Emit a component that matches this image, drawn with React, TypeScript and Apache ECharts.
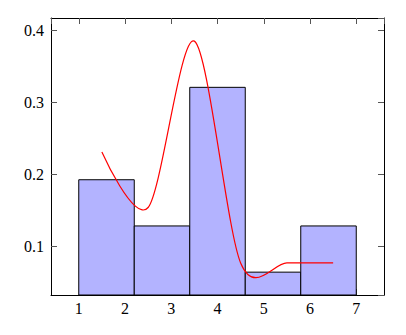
import React, { useEffect, useRef } from "react";
import * as echarts from "echarts";

// Histogram: bin edges and densities
const binEdges = [1, 2.2, 3.4, 4.6, 5.8, 7];
const binDensity = [0.1923, 0.1282, 0.3205, 0.0641, 0.1282];

// Smooth curve points
const curveX = [1.5, 2.5, 3.5, 4.5, 5.5, 6.5];
const curveY = [0.2308, 0.1538, 0.3846, 0.0769, 0.0769, 0.0769];

const X_MIN = 0.4;
const X_MAX = 7.6;
const Y_MIN = 0.0324;
const Y_MAX = 0.4167;
const TENSION = 0.15;

const FONT = "Liberation Serif";

export default function App() {
  const ref = useRef<HTMLDivElement>(null);
  useEffect(() => {
    if (!ref.current) return;
    const chart = echarts.init(ref.current, undefined, { renderer: "svg" });

    const barData = binDensity.map((h, i) => [binEdges[i], binEdges[i + 1], h]);
    const curveData = curveX.map((x, i) => [x, curveY[i]]);

    const tickStyle = { inside: true, length: 6, lineStyle: { color: "#555", width: 1 } };
    const lineStyle = { show: true, onZero: false, lineStyle: { color: "#000", width: 1 } };

    chart.setOption({
      animation: false,
      grid: { left: 51, right: 22, top: 18, bottom: 40, containLabel: false },
      xAxis: [
        {
          type: "value",
          min: X_MIN,
          max: X_MAX,
          position: "bottom",
          axisLine: lineStyle,
          axisTick: tickStyle,
          splitLine: { show: false },
          axisLabel: {
            showMinLabel: false,
            showMaxLabel: false,
            fontFamily: FONT,
            fontSize: 16,
            color: "#000",
            margin: 5,
          },
        },
        {
          type: "value",
          min: X_MIN,
          max: X_MAX,
          position: "top",
          axisLine: lineStyle,
          axisTick: tickStyle,
          splitLine: { show: false },
          axisLabel: { show: false },
        },
      ],
      yAxis: [
        {
          type: "value",
          min: Y_MIN,
          max: Y_MAX,
          position: "left",
          axisLine: lineStyle,
          axisTick: tickStyle,
          splitLine: { show: false },
          axisLabel: {
            showMinLabel: false,
            showMaxLabel: false,
            fontFamily: FONT,
            fontSize: 16,
            color: "#000",
            margin: 7,
          },
        },
        {
          type: "value",
          min: Y_MIN,
          max: Y_MAX,
          position: "right",
          axisLine: lineStyle,
          axisTick: tickStyle,
          splitLine: { show: false },
          axisLabel: { show: false },
        },
      ],
      series: [
        {
          type: "custom",
          xAxisIndex: 0,
          yAxisIndex: 0,
          clip: true,
          encode: { x: [0, 1], y: 2 },
          data: barData,
          renderItem: (params: any, api: any) => {
            const p0 = api.coord([api.value(0), api.value(2)]);
            const p1 = api.coord([api.value(1), Y_MIN]);
            return {
              type: "rect",
              shape: { x: p0[0], y: p0[1], width: p1[0] - p0[0], height: p1[1] - p0[1] },
              style: { fill: "#b3b3ff", stroke: "#000", lineWidth: 1 },
            };
          },
        },
        {
          type: "custom",
          xAxisIndex: 0,
          yAxisIndex: 0,
          encode: { x: 0, y: 1 },
          data: curveData,
          z: 3,
          renderItem: (params: any, api: any) => {
            if (params.dataIndex !== 0) return null;
            const pts = curveX.map((x, i) => api.coord([x, curveY[i]]));
            const n = pts.length;
            let d = `M${pts[0][0]},${pts[0][1]}`;
            for (let i = 0; i < n - 1; i++) {
              const a = pts[i];
              const b = pts[i + 1];
              const c0 =
                i === 0
                  ? a
                  : [a[0] + TENSION * (b[0] - pts[i - 1][0]), a[1] + TENSION * (b[1] - pts[i - 1][1])];
              const c1 =
                i + 1 === n - 1
                  ? b
                  : [b[0] - TENSION * (pts[i + 2][0] - a[0]), b[1] - TENSION * (pts[i + 2][1] - a[1])];
              d += ` C${c0[0]},${c0[1]} ${c1[0]},${c1[1]} ${b[0]},${b[1]}`;
            }
            return {
              type: "path",
              shape: { pathData: d },
              style: { fill: "none", stroke: "#ff0000", lineWidth: 1.2 },
            };
          },
        },
      ],
    });
    return () => chart.dispose();
  }, []);
  return (
    <div
      ref={ref}
      style={{ position: "fixed", left: 0, top: 0, width: 406, height: 335, background: "#fff" }}
    />
  );
}
